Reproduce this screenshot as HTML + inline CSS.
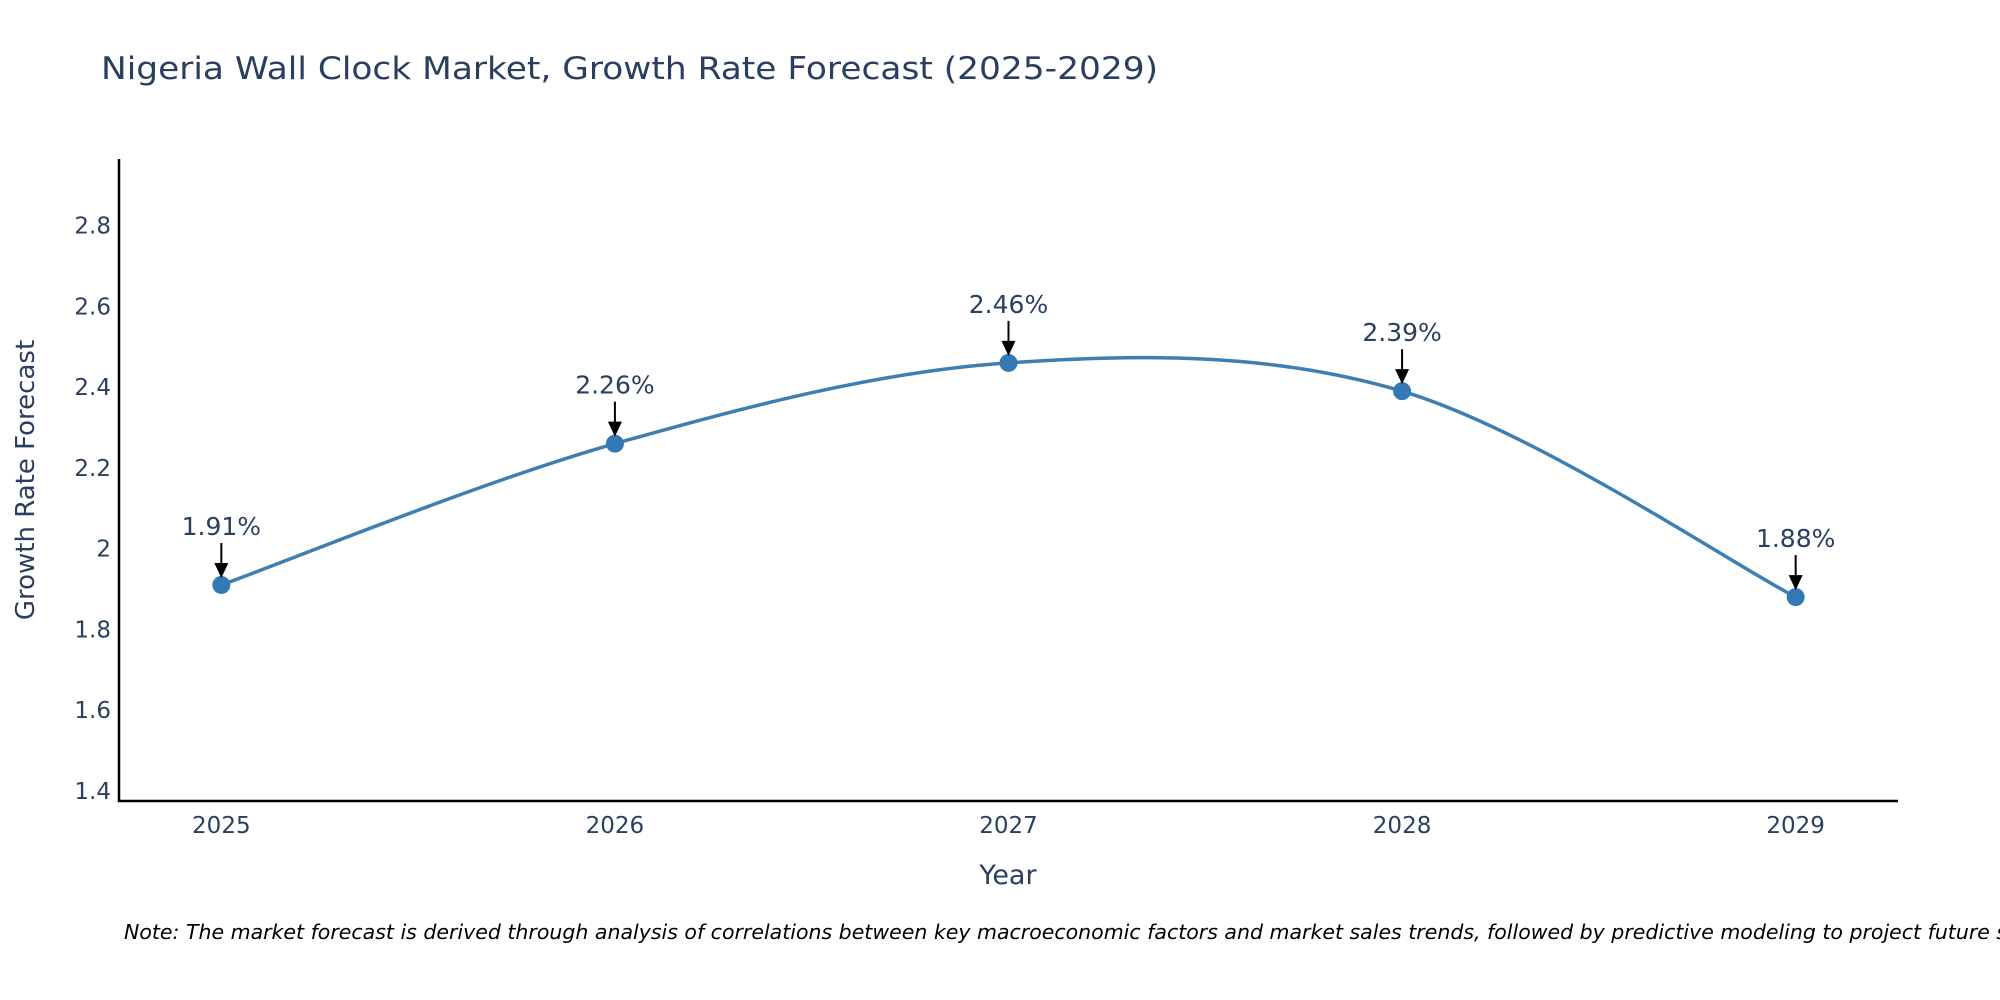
<!DOCTYPE html>
<html><head><meta charset="utf-8"><style>
html,body{margin:0;padding:0;background:#fff;}
svg{display:block;font-family:"DejaVu Sans","Liberation Sans",sans-serif;}
</style></head><body>
<svg id="chart" width="2000" height="1000">
<text x="101" y="79" font-size="31" fill="#2a3f5f" textLength="1057" lengthAdjust="spacingAndGlyphs">Nigeria Wall Clock Market, Growth Rate Forecast (2025-2029)</text>
<g id="yticks"></g>
<g id="xticks"></g>
<line x1="119" y1="159" x2="119" y2="802" stroke="#000" stroke-width="2.5"/>
<line x1="118" y1="801" x2="1898" y2="801" stroke="#000" stroke-width="2.5"/>
<g id="series"></g>
<g id="annots"></g>
<text transform="translate(34,480) rotate(-90)" text-anchor="middle" font-size="26" fill="#2a3f5f">Growth Rate Forecast</text>
<text x="1008" y="884" text-anchor="middle" font-size="27" fill="#2a3f5f">Year</text>
<text x="124" y="939" font-size="20.5" font-style="italic" fill="#000">Note: The market forecast is derived through analysis of correlations between key macroeconomic factors and market sales trends, followed by predictive modeling to project future sales.</text>
</svg>
<script>
const years = [2025, 2026, 2027, 2028, 2029];
const growthValues = [1.91, 2.26, 2.46, 2.39, 1.88];
const valueLabels = ["1.91%", "2.26%", "2.46%", "2.39%", "1.88%"];
const yTickValues = [1.4, 1.6, 1.8, 2.0, 2.2, 2.4, 2.6, 2.8];
const yTickLabels = ["1.4", "1.6", "1.8", "2", "2.2", "2.4", "2.6", "2.8"];

const NS = "http://www.w3.org/2000/svg";
const X0 = 119, X1 = 1898, Y0 = 801, Y1 = 159;
const xMin = 2024.74, xMax = 2029.26, yMin = 1.375, yMax = 2.965;
const xs = v => X0 + (v - xMin) / (xMax - xMin) * (X1 - X0);
const ys = v => Y0 - (v - yMin) / (yMax - yMin) * (Y0 - Y1);
function mk(tag, attrs, parent) {
  const e = document.createElementNS(NS, tag);
  for (const k in attrs) e.setAttribute(k, attrs[k]);
  parent.appendChild(e);
  return e;
}
const yt = document.getElementById('yticks');
yTickValues.forEach((v, i) => {
  const t = mk('text', {x: 111, y: ys(v) + 8, 'text-anchor': 'end', 'font-size': 23, fill: '#2a3f5f'}, yt);
  
  
  t.textContent = yTickLabels[i];
});
const xt = document.getElementById('xticks');
years.forEach(y => {
  const t = mk('text', {x: xs(y), y: 833, 'text-anchor': 'middle', 'font-size': 23, fill: '#2a3f5f'}, xt);
  
  
  t.textContent = String(y);
});
const pts = years.map((y, i) => [xs(y), ys(growthValues[i])]);
let d = `M${pts[0][0]},${pts[0][1]}`;
const tension = 0.5;
for (let i = 0; i < pts.length - 1; i++) {
  const p0 = pts[i - 1] || pts[i], p1 = pts[i], p2 = pts[i + 1], p3 = pts[i + 2] || pts[i + 1];
  const c1 = [p1[0] + (p2[0] - p0[0]) * tension / 3, p1[1] + (p2[1] - p0[1]) * tension / 3];
  const c2 = [p2[0] - (p3[0] - p1[0]) * tension / 3, p2[1] - (p3[1] - p1[1]) * tension / 3];
  d += ` C${c1[0]},${c1[1]} ${c2[0]},${c2[1]} ${p2[0]},${p2[1]}`;
}
const s = document.getElementById('series');
const line = mk('path', {d: d, fill: 'none', stroke: '#3d7fb3', 'stroke-width': 3.5}, s);


pts.forEach(p => {
  const c = mk('circle', {cx: p[0], cy: p[1], r: 9, fill: '#3479b5'}, s);
  
  
});
const an = document.getElementById('annots');
pts.forEach((p, i) => {
  const g = mk('g', {}, an);
  
  
  mk('line', {x1: p[0], y1: p[1] - 42, x2: p[0], y2: p[1] - 20, stroke: '#000', 'stroke-width': 2}, g);
  mk('polygon', {points: `${p[0] - 7},${p[1] - 22} ${p[0] + 7},${p[1] - 22} ${p[0]},${p[1] - 7}`, fill: '#000'}, g);
  const t = mk('text', {x: p[0], y: p[1] - 50, 'text-anchor': 'middle', 'font-size': 25, fill: '#2a3f5f'}, g);
  t.textContent = valueLabels[i];
});
</script>
</body></html>
